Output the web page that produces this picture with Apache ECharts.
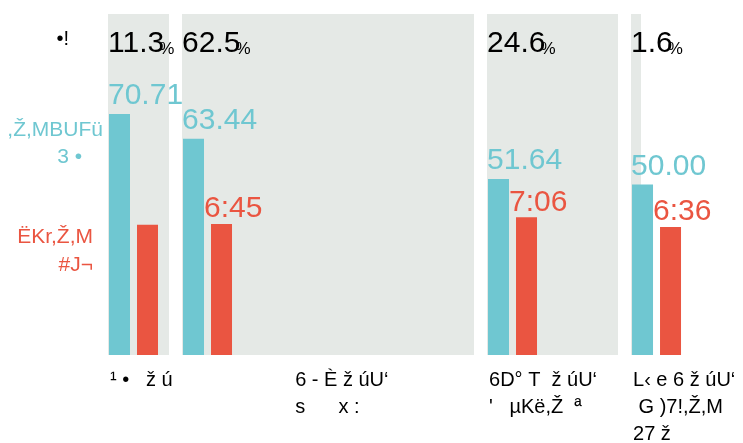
<!DOCTYPE html>
<html>
<head>
<meta charset="utf-8">
<script src="https://cdn.jsdelivr.net/npm/echarts@6/dist/echarts.min.js"></script>
<style>
html, body { margin: 0; padding: 0; background: #fff; }
#main { width: 743px; height: 443px; }
</style>
</head>
<body>
<div id="main"></div>
<script>
// column data
var categories = [
    '¹ •   ž ú',
    '                    6 - È ž úU‘\n                    s      x :',
    '6D° T  ž úU‘\n\'   µKë,Ž  ª',
    'L‹ e 6 ž úU‘\n G )7!,Ž,M\n27 ž'
];
var shareLabels = ['11.3', '62.5', '24.6', '1.6'];
var colWidth = [12.35, 59.11, 26.52, 2.02];   // visible width of each column (% of total)
var blueValues = [70.71, 63.44, 51.64, 50.00];
var redSeconds = [403, 405, 426, 396];
var redShow = [false, true, true, true];

var rowLabels = {
    share: '•!',
    blue1: ',Ž,MBUFü',
    blue2: '3 •',
    red1: 'ËKr,Ž,M',
    red2: '#J¬'
};

var BLUE = '#6fc7d1';
var RED = '#ea5541';
var GRAY = '#e5e9e6';
var FONT = "'Liberation Sans', Arial, sans-serif";
var GAP = 13;
var BAR_W = 21;

var ctx = document.createElement('canvas').getContext('2d');
function textWidth(t, font) {
    ctx.font = font;
    return ctx.measureText(t).width;
}

function fmtTime(s) {
    var m = Math.floor(s / 60);
    var r = s % 60;
    return m + ':' + (r < 10 ? '0' : '') + r;
}

function colBounds(api, i) {
    var start = 0;
    for (var k = 0; k < i; k++) start += colWidth[k];
    var x0 = api.coord([start, 0])[0] + i * GAP;
    var x1 = api.coord([start + colWidth[i], 0])[0] + i * GAP;
    return [x0, x1];
}

var chart = echarts.init(document.getElementById('main'));

var option = {
    animation: false,
    backgroundColor: '#fff',
    grid: { left: 108, top: 14, width: 494, height: 341 },
    xAxis: { type: 'value', min: 0, max: 100, show: false },
    yAxis: [
        { type: 'value', min: 0, max: 100, show: false },
        { type: 'value', min: 0, max: 1055, show: false }
    ],
    series: [{
            // gray columns + share labels + category labels
            type: 'custom',
            clip: false,
            z: 1,
            data: blueValues.map(function(v, i) { return [i, v]; }),
            renderItem: function(params, api) {
                var i = params.dataIndex;
                var b = colBounds(api, i);
                var top = api.coord([0, 100])[1];
                var bottom = api.coord([0, 0])[1];
                var numFont = '30px ' + FONT;
                var w = textWidth(shareLabels[i], numFont);
                return {
                    type: 'group',
                    children: [{
                            type: 'rect',
                            shape: { x: b[0], y: top, width: b[1] - b[0], height: bottom - top },
                            style: { fill: GRAY }
                        },
                        {
                            type: 'text',
                            style: {
                                x: b[0], y: top + 30, text: shareLabels[i], font: numFont,
                                fill: '#000', align: 'left', verticalAlign: 'middle'
                            }
                        },
                        {
                            type: 'text',
                            style: {
                                x: b[0] + w - 5, y: top + 35, text: '%', font: '17px ' + FONT,
                                fill: '#000', align: 'left', verticalAlign: 'middle'
                            }
                        },
                        {
                            type: 'text',
                            style: {
                                x: b[0] + 2, y: bottom + 12, text: categories[i], font: '20px ' + FONT,
                                lineHeight: 27, fill: '#000', align: 'left', verticalAlign: 'top'
                            }
                        }
                    ]
                };
            }
        },
        {
            // blue bars
            type: 'custom',
            clip: false,
            z: 2,
            data: blueValues.map(function(v, i) { return [i, v]; }),
            renderItem: function(params, api) {
                var i = params.dataIndex;
                var b = colBounds(api, i);
                var y = api.coord([0, api.value(1)])[1];
                var bottom = api.coord([0, 0])[1];
                return {
                    type: 'group',
                    children: [{
                            type: 'rect',
                            shape: { x: b[0] + 1, y: y, width: BAR_W, height: bottom - y },
                            style: { fill: BLUE }
                        },
                        {
                            type: 'text',
                            style: {
                                x: b[0], y: y - 3, text: api.value(1).toFixed(2), font: '30px ' + FONT,
                                fill: BLUE, align: 'left', verticalAlign: 'bottom'
                            }
                        }
                    ]
                };
            }
        },
        {
            // red bars
            type: 'custom',
            clip: false,
            z: 3,
            yAxisIndex: 1,
            data: redSeconds.map(function(v, i) { return [i, v]; }),
            renderItem: function(params, api) {
                var i = params.dataIndex;
                var b = colBounds(api, i);
                var y = api.coord([0, api.value(1)])[1];
                var bottom = api.coord([0, 0])[1];
                var kids = [{
                    type: 'rect',
                    shape: { x: b[0] + 29, y: y, width: BAR_W, height: bottom - y },
                    style: { fill: RED }
                }];
                if (redShow[i]) {
                    kids.push({
                        type: 'text',
                        style: {
                            x: b[0] + 22, y: y, text: fmtTime(api.value(1)), font: '30px ' + FONT,
                            fill: RED, align: 'left', verticalAlign: 'bottom'
                        }
                    });
                }
                return { type: 'group', children: kids };
            }
        }
    ],
    graphic: [
        { type: 'text', style: { x: 69, y: 49, text: rowLabels.share, font: '20px ' + FONT, fill: '#000', align: 'right', verticalAlign: 'bottom' } },
        { type: 'text', style: { x: 103, y: 141, text: rowLabels.blue1, font: '21px ' + FONT, fill: BLUE, align: 'right', verticalAlign: 'bottom' } },
        { type: 'text', style: { x: 82, y: 168, text: rowLabels.blue2, font: '21px ' + FONT, fill: BLUE, align: 'right', verticalAlign: 'bottom' } },
        { type: 'text', style: { x: 93, y: 248, text: rowLabels.red1, font: '21px ' + FONT, fill: RED, align: 'right', verticalAlign: 'bottom' } },
        { type: 'text', style: { x: 93, y: 276, text: rowLabels.red2, font: '21px ' + FONT, fill: RED, align: 'right', verticalAlign: 'bottom' } }
    ]
};

chart.setOption(option);
</script>
</body>
</html>
